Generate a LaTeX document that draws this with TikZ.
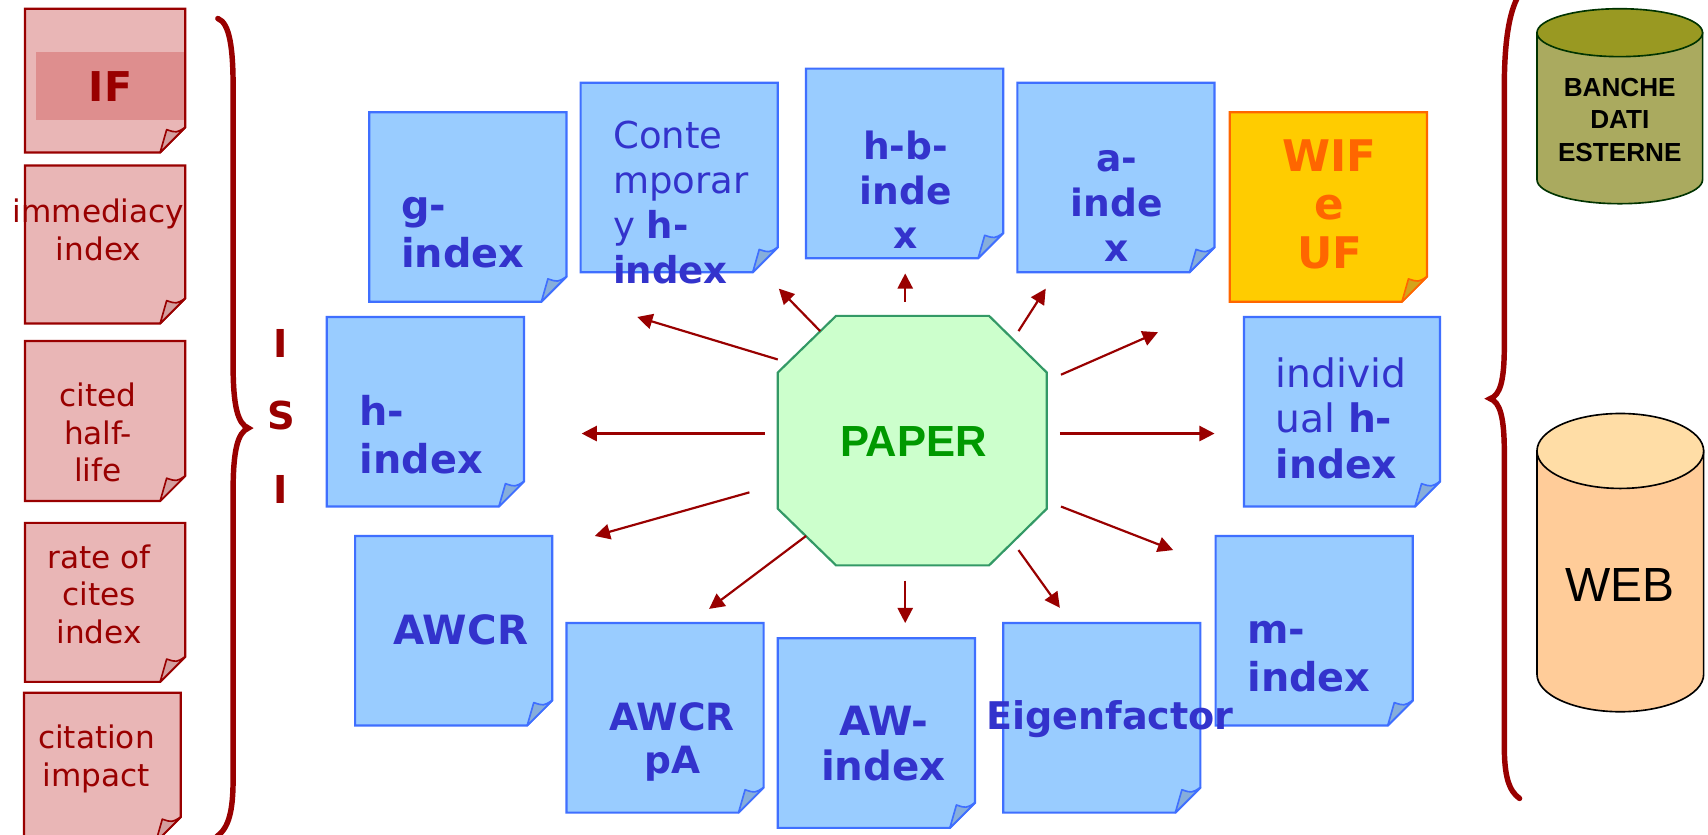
\documentclass[tikz,border=0pt]{standalone}
\usepackage{fontspec}
\setmainfont{DejaVu Sans}
\newfontfamily\arialfont{Liberation Sans}
\usetikzlibrary{arrows.meta}
\definecolor{pinkfill}{HTML}{E9B6B6}
\definecolor{pinkhl}{HTML}{DE8E8E}
\definecolor{pinkflap}{HTML}{D49E9E}
\definecolor{darkred}{HTML}{990000}
\definecolor{bluefill}{HTML}{99CCFF}
\definecolor{blueline}{HTML}{3F6FFF}
\definecolor{blueflap}{HTML}{86AEDB}
\definecolor{bluetext}{HTML}{3333CC}
\definecolor{orfill}{HTML}{FFCC00}
\definecolor{orline}{HTML}{FF6600}
\definecolor{orflap}{HTML}{D4A31A}
\definecolor{octfill}{HTML}{CCFFCC}
\definecolor{octline}{HTML}{339966}
\definecolor{octtext}{HTML}{009900}
\definecolor{dbtop}{HTML}{999922}
\definecolor{dbbody}{HTML}{AAAA5F}
\definecolor{dbline}{HTML}{003300}
\definecolor{webtop}{HTML}{FFDDA6}
\definecolor{webbody}{HTML}{FFCC99}
% sticky note: x1 y1 x2 y2 fill line flap
\newcommand\stickynote[7]{%
  \filldraw[fill=#5, draw=#6, line width=2pt, line join=miter]
    (#1,#2) -- (#3,#2) -- (#3,{#4-23}) -- ({#3-23},#4) -- (#1,#4) -- cycle;
  \filldraw[fill=#7, draw=#6, line width=1.5pt, line join=round]
    (#3,{#4-23}) .. controls ({#3-8},{#4-18}) .. ({#3-17},{#4-21}) -- ({#3-23},#4) -- cycle;
}
\begin{document}
\begin{tikzpicture}[x=1pt,y=-1pt,
  brace/.style={draw=darkred, line width=5pt, line cap=round},
  arr/.style={draw=darkred, line width=2pt, -{Triangle[length=14pt,width=14pt]}},
  pinktxt/.style={text=darkred, font=\fontsize{28.6}{34.8}\selectfont, align=center, inner sep=0pt},
  isitxt/.style={text=darkred, font=\fontsize{35.3}{40}\selectfont\bfseries, inner sep=0pt},
  bluetxt/.style={text=bluetext, font=\fontsize{36.5}{44}\selectfont\bfseries, inner sep=0pt},
]
\clip (0,0) rectangle (1568,766);
\fill[white] (0,0) rectangle (1568,766);

% braces
\draw[brace] (200,17) .. controls (211,21) and (214,45) .. (214,80) -- (214,335)
  .. controls (214,372) and (218,389) .. (228,393)
  .. controls (218,397) and (214,414) .. (214,451) -- (214,715)
  .. controls (214,745) and (210,760) .. (199,768);
\draw[brace] (1394,-4) .. controls (1385,12) and (1381,40) .. (1381,80) -- (1381,318)
  .. controls (1381,350) and (1377,363) .. (1368,366)
  .. controls (1377,369) and (1381,383) .. (1381,415) -- (1381,685)
  .. controls (1381,712) and (1385,726) .. (1395,733);

% cylinders
\path[fill=dbbody, draw=dbline, line width=1.5pt] (1411,30) -- (1411,165)
  arc[start angle=180, end angle=360, x radius=76pt, y radius=22pt] -- (1563,30) -- cycle;
\filldraw[fill=dbtop, draw=dbline, line width=1.5pt] (1487,30) ellipse[x radius=76pt, y radius=22pt];
\path[fill=webbody, draw=black, line width=1.5pt] (1411,414) -- (1411,619)
  arc[start angle=180, end angle=360, x radius=76.5pt, y radius=34.4pt] -- (1564,414) -- cycle;
\filldraw[fill=webtop, draw=black, line width=1.5pt] (1487.5,414) ellipse[x radius=76.5pt, y radius=34.4pt];

% pink notes
\stickynote{23}{8}{170}{140}{pinkfill}{darkred}{pinkflap}
\fill[pinkhl] (33,48) rectangle (169,110);
\stickynote{23}{152}{170}{297}{pinkfill}{darkred}{pinkflap}
\stickynote{23}{313}{170}{460}{pinkfill}{darkred}{pinkflap}
\stickynote{23}{480}{170}{626}{pinkfill}{darkred}{pinkflap}
\stickynote{22}{636}{166}{773}{pinkfill}{darkred}{pinkflap}

% blue notes
\stickynote{339}{103}{520}{277}{bluefill}{blueline}{blueflap}
\stickynote{533}{76}{714}{250}{bluefill}{blueline}{blueflap}
\stickynote{740}{63}{921}{237}{bluefill}{blueline}{blueflap}
\stickynote{934}{76}{1115}{250}{bluefill}{blueline}{blueflap}
\stickynote{1129}{103}{1310}{277}{orfill}{orline}{orflap}
\stickynote{300}{291}{481}{465}{bluefill}{blueline}{blueflap}
\stickynote{1142}{291}{1322}{465}{bluefill}{blueline}{blueflap}
\stickynote{326}{492}{507}{666}{bluefill}{blueline}{blueflap}
\stickynote{520}{572}{701}{746}{bluefill}{blueline}{blueflap}
\stickynote{714}{586}{895}{760}{bluefill}{blueline}{blueflap}
\stickynote{1116}{492}{1297}{666}{bluefill}{blueline}{blueflap}
\stickynote{921}{572}{1102}{746}{bluefill}{blueline}{blueflap}

% octagon
\filldraw[fill=octfill, draw=octline, line width=2pt, line join=miter]
  (767.5,290) -- (908,290) -- (961,342) -- (961,467) -- (908,519)
  -- (767.5,519) -- (714,467) -- (714,342) -- cycle;

% arrows
\coordinate (s1) at (714,330);  \coordinate (e1) at (585,291);
\coordinate (s2) at (753,304);  \coordinate (e2) at (715,265);
\coordinate (s3) at (831,277);  \coordinate (e3) at (831,251);
\coordinate (s4) at (935,304);  \coordinate (e4) at (960,265);
\coordinate (s5) at (974,344);  \coordinate (e5) at (1063,305);
\coordinate (s6) at (973,398);  \coordinate (e6) at (1115,398);
\coordinate (s7) at (974,465);  \coordinate (e7) at (1077,505);
\coordinate (s8) at (935,505);  \coordinate (e8) at (973,558);
\coordinate (s9) at (831,533);  \coordinate (e9) at (831,572);
\coordinate (s10) at (740,492); \coordinate (e10) at (651,559);
\coordinate (s11) at (688,452); \coordinate (e11) at (546,492);
\coordinate (s12) at (702,398); \coordinate (e12) at (534,398);
\foreach \i in {1,...,12} { \draw[arr] (s\i) -- (e\i); }

% pink texts
\node[pinktxt, font=\fontsize{37.7}{40}\selectfont\bfseries] (iftxt) at (101.4,79.6) {IF};
\node[pinktxt] (immtxt) at (90.4,211) {immediacy\\index};
\node[pinktxt] (citedtxt) at (90,397) {cited\\half-\\life};
\node[pinktxt] (ratetxt) at (91,545.6) {rate of\\cites\\index};
\node[pinktxt] (citimptxt) at (88.5,697) {citation\\impact};
\node[isitxt] (isi1) at (257.8,315.2) {I};
\node[isitxt] (isi2) at (258.6,381.3) {S};
\node[isitxt] (isi3) at (258,449.4) {I};

% blue texts
\node[bluetxt, anchor=west, align=left] (gtxt) at (368,214) {g-\\index};
\node[bluetxt, anchor=west, align=left, font=\fontsize{34}{41.3}\selectfont] (contxt) at (562.7,186.3) {Conte\\mporar\\y \textbf{h-}\\\textbf{index}};
\node[bluetxt, align=center, font=\fontsize{34.5}{40.5}\selectfont\bfseries] (hbtxt) at (831.3,174.2) {h-b-\\inde\\x};
\node[bluetxt, align=center, font=\fontsize{34.5}{41}\selectfont\bfseries] (atxt) at (1025,189) {a-\\inde\\x};
\node[text=orline, align=center, inner sep=0pt, font=\fontsize{40}{44.4}\selectfont\bfseries] (wiftxt) at (1220.6,187.5) {WIF\\e\\UF};
\node[bluetxt, anchor=west, align=left] (htxt) at (330,399) {h-\\index};
\node[bluetxt, anchor=west, align=left, font=\fontsize{36}{42}\selectfont] (indtxt) at (1171,384) {individ\\ual \textbf{h-}\\\textbf{index}};
\node[bluetxt, font=\fontsize{37}{40}\selectfont\bfseries] (awcrtxt) at (423,578) {AWCR};
\node[bluetxt, align=center, font=\fontsize{34.5}{40}\selectfont\bfseries] (awcrpatxt) at (617,681) {AWCR\\pA};
\node[bluetxt, align=center, font=\fontsize{37}{41}\selectfont\bfseries] (awtxt) at (811,682.7) {AW-\\index};
\node[bluetxt, font=\fontsize{35}{41}\selectfont\bfseries] (eigtxt) at (1019,660) {Eigenfactor};
\node[bluetxt, anchor=west, align=left] (mtxt) at (1145,603) {m-\\index};

% center and databases
\node[text=octtext, inner sep=0pt, font=\arialfont\bfseries\fontsize{40}{42}\selectfont] (paper) at (838.6,405.5) {PAPER};
\node[align=center, inner sep=0pt, font=\arialfont\bfseries\fontsize{24}{29.6}\selectfont] (banche) at (1487,110) {BANCHE\\DATI\\ESTERNE};
\node[inner sep=0pt, font=\arialfont\fontsize{44}{46}\selectfont] (web) at (1487,537) {WEB};
\end{tikzpicture}
\end{document}
